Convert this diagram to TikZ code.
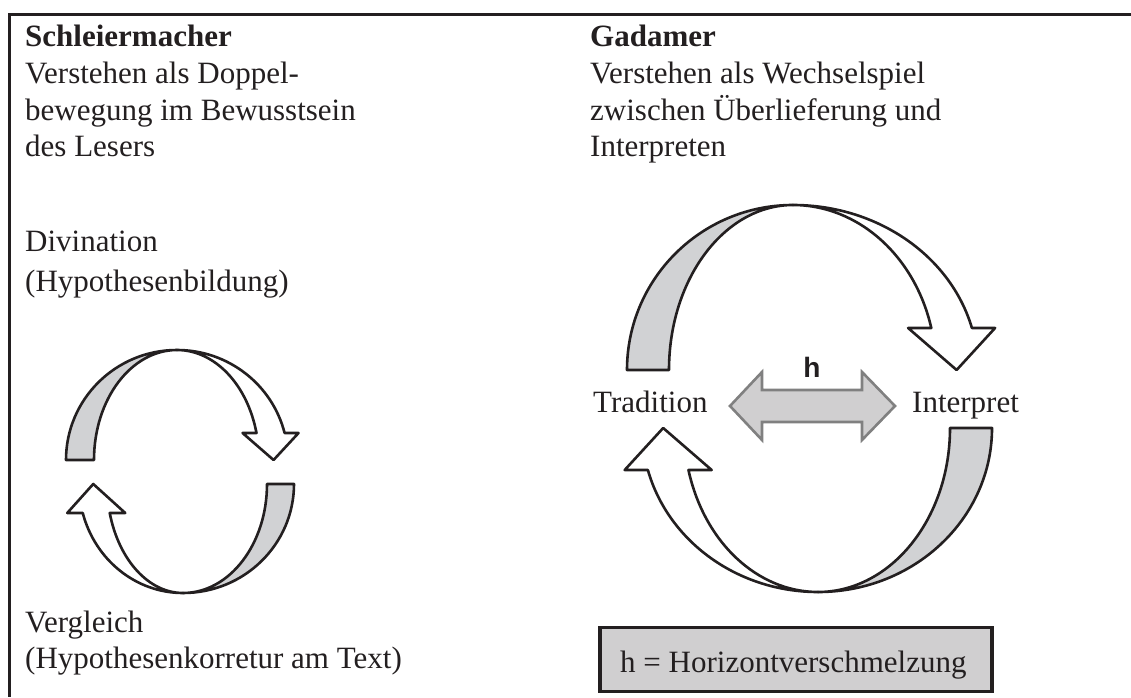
\documentclass[tikz,border=0pt]{standalone}
\usepackage{fontspec}
\setmainfont{Liberation Serif}
\newfontfamily\hfont{Liberation Sans}
\definecolor{bandgray}{RGB}{209,210,212}
\definecolor{boxgray}{RGB}{208,207,208}
\definecolor{hstrokegray}{RGB}{128,128,128}
\definecolor{ink}{RGB}{35,31,32}
\newcommand\halfloop[8]{%
  \pgfmathsetmacro\hlt{asin(#6/#5)}%
  \pgfmathsetmacro\hlxo{#3*cos(\hlt)}%
  \pgfmathsetmacro\hlxi{#4*cos(\hlt)}%
  \pgfmathsetmacro\hlxm{(\hlxo+\hlxi)/2}%
  \draw[backband] (-#1,0) arc[start angle=180,end angle=90,x radius=#1,y radius=#5]
     arc[start angle=90,end angle=180,x radius=#2,y radius=#5] -- cycle;
  \draw[frontband] (0,#5) arc[start angle=90,end angle=\hlt,x radius=#3,y radius=#5]
     -- (\hlxm+#7,#6) -- (\hlxm+#8,0) -- (\hlxm-#7,#6) -- (\hlxi,#6)
     arc[start angle=\hlt,end angle=90,x radius=#4,y radius=#5] -- cycle;
}
\begin{document}
\begin{tikzpicture}[x=1pt,y=1pt,
  band/.style={draw=ink, line width=2.6pt, line join=round},
  backband/.style={band, fill=bandgray},
  frontband/.style={band, fill=white},
  txt/.style={anchor=base west, inner sep=0pt, text=ink, font=\fontsize{31}{37}\selectfont},
  hstroke/.style={draw=hstrokegray, fill=boxgray, line width=2.6pt, line join=miter},
]
\useasboundingbox (0,0) rectangle (1131,697);
% frame
\draw[ink, line width=3pt, line join=miter] (1131,682) -- (9,682) -- (9,0);
% left column texts
\node[txt] (s1) at (25,650) {\textbf{Schleiermacher}};
\node[txt] (s2) at (25,613) {Verstehen als Doppel-};
\node[txt] (s3) at (25,576) {bewegung im Bewusstsein};
\node[txt] (s4) at (25,540) {des Lesers};
\node[txt] (div1) at (25,445) {Divination};
\node[txt] (div2) at (25,406) {(Hypothesenbildung)};
\node[txt] (ver1) at (25,65) {Vergleich};
\node[txt] (ver2) at (25,29) {(Hypothesenkorretur am Text)};
% right column texts
\node[txt] (g1) at (590,650) {\textbf{Gadamer}};
\node[txt] (g2) at (590,613) {Verstehen als Wechselspiel};
\node[txt] (g3) at (590,576) {zwischen Überlieferung und};
\node[txt] (g4) at (590,540) {Interpreten};
\node[txt] (trad) at (593,285) {Tradition};
\node[txt] (interp) at (912,285) {Interpret};
% left cycle
\begin{scope}[shift={(177,237)}]
  \halfloop{111}{83}{111}{82}{110}{27}{28}{3}
\end{scope}
\begin{scope}[shift={(183,213)},rotate=180]
  \halfloop{111}{84}{104}{76}{109}{29}{29}{3}
\end{scope}
% right cycle
\begin{scope}[shift={(793,327)}]
  \halfloop{166}{124}{185}{143}{165}{42}{43.5}{5}
\end{scope}
\begin{scope}[shift={(818,269)},rotate=180]
  \halfloop{174}{132}{176}{134}{164}{42}{43.5}{5}
\end{scope}
% horizon double arrow
\draw[hstroke] (730,291) -- (762,325) -- (762,307) -- (862,307) -- (862,325) -- (895,291)
   -- (862,257) -- (862,275) -- (762,275) -- (762,257) -- cycle;
\node[anchor=base, inner sep=0pt, text=ink, font=\hfont\bfseries\fontsize{28}{28}\selectfont] (hlab) at (812,320) {h};
% legend box
\node[draw=ink, line width=3.5pt, fill=boxgray, anchor=south west, minimum width=392, minimum height=64, inner sep=0pt] (legend) at (598,4) {};
\node[txt] (legtxt) at (620,25) {h = Horizontverschmelzung};
\end{tikzpicture}
\end{document}
